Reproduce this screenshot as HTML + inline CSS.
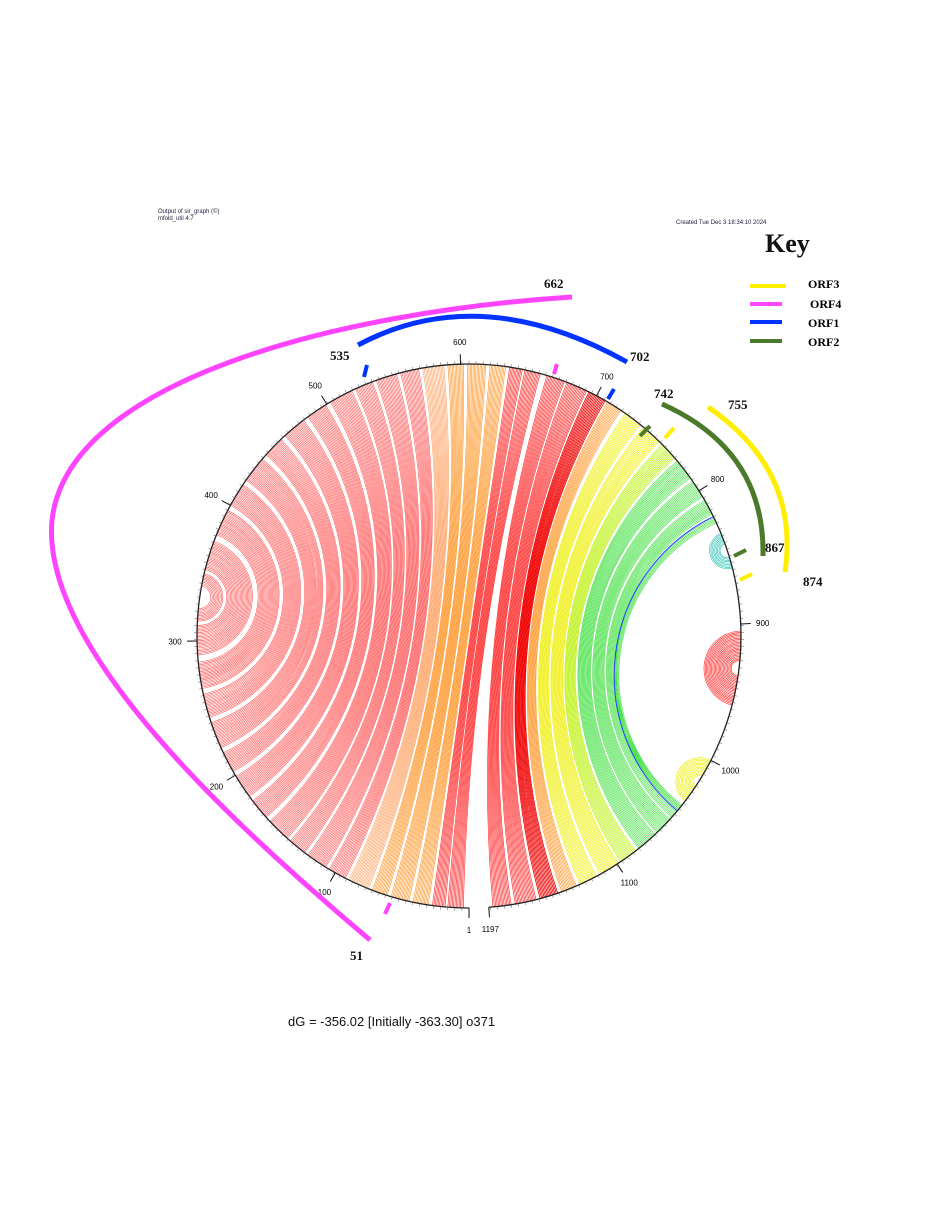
<!DOCTYPE html>
<html><head><meta charset="utf-8">
<style>
html,body{margin:0;padding:0;background:#fff;}
#wrap{position:relative;width:936px;height:1224px;overflow:hidden;background:#fff;}
svg{position:absolute;left:0;top:0;}
</style></head>
<body>
<div id="wrap">
<svg id="chart" width="936" height="1224" viewBox="0 0 936 1224">
  <text x="158" y="213" font-family="Liberation Sans, sans-serif" font-size="6" fill="#224">Output of sir_graph (©)</text>
  <text x="158" y="220" font-family="Liberation Sans, sans-serif" font-size="6" fill="#224">mfold_util 4.7</text>
  <text x="676" y="224" font-family="Liberation Sans, sans-serif" font-size="6" fill="#224">Created Tue Dec  3 18:34:10 2024</text>
  <g id="arcs"></g>
  <g id="axis"></g>
  <g id="orfs">
    <path d="M370,940 C240,830 40,650 52,520 C68,380 340,312 572,297" fill="none" stroke="#ff44ff" stroke-width="5"/>
    <path d="M358,345 Q480,280 627,362" fill="none" stroke="#0033ff" stroke-width="5"/>
    <path d="M662,404 Q765,450 763,556" fill="none" stroke="#4a7a2a" stroke-width="5"/>
    <path d="M708,407 Q800,470 785,572" fill="none" stroke="#ffee00" stroke-width="5"/>
    <line x1="557" y1="364" x2="554" y2="374" stroke="#ff44ff" stroke-width="4"/>
    <line x1="390" y1="903" x2="385" y2="914" stroke="#ff44ff" stroke-width="4"/>
    <line x1="367" y1="365" x2="364" y2="377" stroke="#0033ff" stroke-width="4"/>
    <line x1="614" y1="389" x2="608" y2="399" stroke="#0033ff" stroke-width="4"/>
    <line x1="650" y1="426" x2="640" y2="436" stroke="#4a7a2a" stroke-width="4"/>
    <line x1="746" y1="550" x2="734" y2="556" stroke="#4a7a2a" stroke-width="4"/>
    <line x1="674" y1="428" x2="665" y2="438" stroke="#ffee00" stroke-width="4"/>
    <line x1="752" y1="574" x2="740" y2="580" stroke="#ffee00" stroke-width="4"/>
  </g>
  <g font-family="Liberation Serif, serif" font-weight="bold" font-size="13" fill="#111">
    <text x="544" y="288">662</text>
    <text x="330" y="360">535</text>
    <text x="630" y="361">702</text>
    <text x="654" y="398">742</text>
    <text x="728" y="409">755</text>
    <text x="765" y="552">867</text>
    <text x="803" y="586">874</text>
    <text x="350" y="960">51</text>
  </g>
  <g>
    <text x="765" y="252" font-family="Liberation Serif, serif" font-weight="bold" font-size="26" fill="#111">Key</text>
    <line x1="750" y1="286" x2="786" y2="286" stroke="#ffee00" stroke-width="4"/>
    <text x="808" y="288" font-family="Liberation Serif, serif" font-weight="bold" font-size="12">ORF3</text>
    <line x1="750" y1="304" x2="782" y2="304" stroke="#ff44ff" stroke-width="4"/>
    <text x="810" y="308" font-family="Liberation Serif, serif" font-weight="bold" font-size="12">ORF4</text>
    <line x1="750" y1="322" x2="782" y2="322" stroke="#0033ff" stroke-width="4"/>
    <text x="808" y="327" font-family="Liberation Serif, serif" font-weight="bold" font-size="12">ORF1</text>
    <line x1="750" y1="341" x2="782" y2="341" stroke="#4a7a2a" stroke-width="4"/>
    <text x="808" y="346" font-family="Liberation Serif, serif" font-weight="bold" font-size="12">ORF2</text>
  </g>
  <text x="288" y="1026" font-family="Liberation Sans, sans-serif" font-size="13" fill="#111">dG = -356.02 [Initially -363.30] o371</text>
</svg>
</div>
<script>
const seqLength = 1197;
const helixStart = [5,18,30,44,60,74,92,108,126,142,163,182,203,222,245,266,290,314, 662,677,694,709, 724,740,758,774,792,808,822,821, 834,905,1000];
const helixEnd   = [657,644,632,618,602,588,570,554,536,520,499,480,459,440,417,396,372,348, 1194,1178,1160,1144, 1130,1114,1097,1081,1064,1049,1042,1043, 860,958,1034];
const helixLen   = [12,10,12,14,12,16,14,16,14,18,16,18,16,20,18,20,22,10, 14,16,14,12, 14,16,14,16,14,12,5,1, 9,22,14];
const helixClass = ['r','r','o','o','o','lo','lr','lr','lr','lr','lr','lr','lr','lr','lr','lr','lr','lr', 'r','r','dr','o', 'y','y','yg','g','g','g','g','b', 'mix','r','y'];
const tickLabels = [1,100,200,300,400,500,600,700,800,900,1000,1100,1197];

const classColor = {r:'#ff3a3a',dr:'#f00000',o:'#ff9a30',lo:'#ffa060',lr:'#ff5a5a',y:'#eeee00',yg:'#b8f000',g:'#40e040',b:'#2040ff',mix:'#20c0b0'};
const classWidth = {r:0.7,dr:0.8,o:0.65,lo:0.6,lr:0.6,y:0.6,yg:0.6,g:0.6,b:1,mix:0.6};
const NS='http://www.w3.org/2000/svg';
const cx=469, cy=636, R=272, gapUnits=13;
function ang(p){return (p-1)/(seqLength+gapUnits)*2*Math.PI;}
function pt(p,r){const t=ang(p);return [cx-r*Math.sin(t), cy+r*Math.cos(t)];}

const arcs=document.getElementById('arcs');
for(let h=0;h<helixStart.length;h++){
  for(let n=0;n<helixLen[h];n++){
    const i=helixStart[h]+n, j=helixEnd[h]-n;
    if(j<=i) continue;
    const A=pt(i,R), B=pt(j,R);
    let d;
    let bx=A[0]+B[0]-2*cx, by=A[1]+B[1]-2*cy;
    const bl=Math.hypot(bx,by);
    let dTheta=Math.abs(ang(j)-ang(i)); if(dTheta>Math.PI) dTheta=2*Math.PI-dTheta;
    if(bl<1e-3 || Math.abs(Math.PI-dTheta)<0.01){
      d=`M${A[0].toFixed(2)},${A[1].toFixed(2)} L${B[0].toFixed(2)},${B[1].toFixed(2)}`;
    } else {
      bx/=bl; by/=bl;
      const dist=R/Math.cos(dTheta/2);
      const C=[cx+bx*dist, cy+by*dist];
      const rr=R*Math.tan(dTheta/2);
      const cross=(A[0]-C[0])*(B[1]-C[1])-(A[1]-C[1])*(B[0]-C[0]);
      const sweep=cross>0?1:0;
      d=`M${A[0].toFixed(2)},${A[1].toFixed(2)} A${rr.toFixed(2)},${rr.toFixed(2)} 0 0 ${sweep} ${B[0].toFixed(2)},${B[1].toFixed(2)}`;
    }
    const p=document.createElementNS(NS,'path');
    p.setAttribute('d',d);
    p.setAttribute('fill','none');
    p.setAttribute('stroke',classColor[helixClass[h]]);
    p.setAttribute('stroke-width',classWidth[helixClass[h]]);
    
    
    arcs.appendChild(p);
  }
}

const axis=document.getElementById('axis');
const circ=document.createElementNS(NS,'path');
const s=pt(1,R), e=pt(seqLength,R);
circ.setAttribute('d',`M${s[0]},${s[1]} A${R},${R} 0 1 1 ${e[0]},${e[1]}`);
circ.setAttribute('fill','none');circ.setAttribute('stroke','#222');circ.setAttribute('stroke-width','1.3');


axis.appendChild(circ);
let tickD='';
for(let p=1;p<=seqLength;p+=5){const a=pt(p,R),b=pt(p,R+3);tickD+=`M${a[0].toFixed(1)},${a[1].toFixed(1)}L${b[0].toFixed(1)},${b[1].toFixed(1)}`;}
const tk=document.createElementNS(NS,'path');
tk.setAttribute('d',tickD);tk.setAttribute('stroke','#555');tk.setAttribute('stroke-width','0.5');


axis.appendChild(tk);
tickLabels.forEach(v=>{
  const a=pt(v,R), b=pt(v,R+10);
  const l=document.createElementNS(NS,'line');
  l.setAttribute('x1',a[0]);l.setAttribute('y1',a[1]);l.setAttribute('x2',b[0]);l.setAttribute('y2',b[1]);
  l.setAttribute('stroke','#111');l.setAttribute('stroke-width','1');
  
  
  axis.appendChild(l);
  const c=pt(v,R+22);
  const t=document.createElementNS(NS,'text');
  t.setAttribute('x',c[0]);t.setAttribute('y',c[1]+3);
  t.setAttribute('text-anchor','middle');
  t.setAttribute('font-family','Liberation Sans, sans-serif');
  t.setAttribute('font-size','8');
  t.textContent=v;
  
  
  axis.appendChild(t);
});
</script>
</body></html>
